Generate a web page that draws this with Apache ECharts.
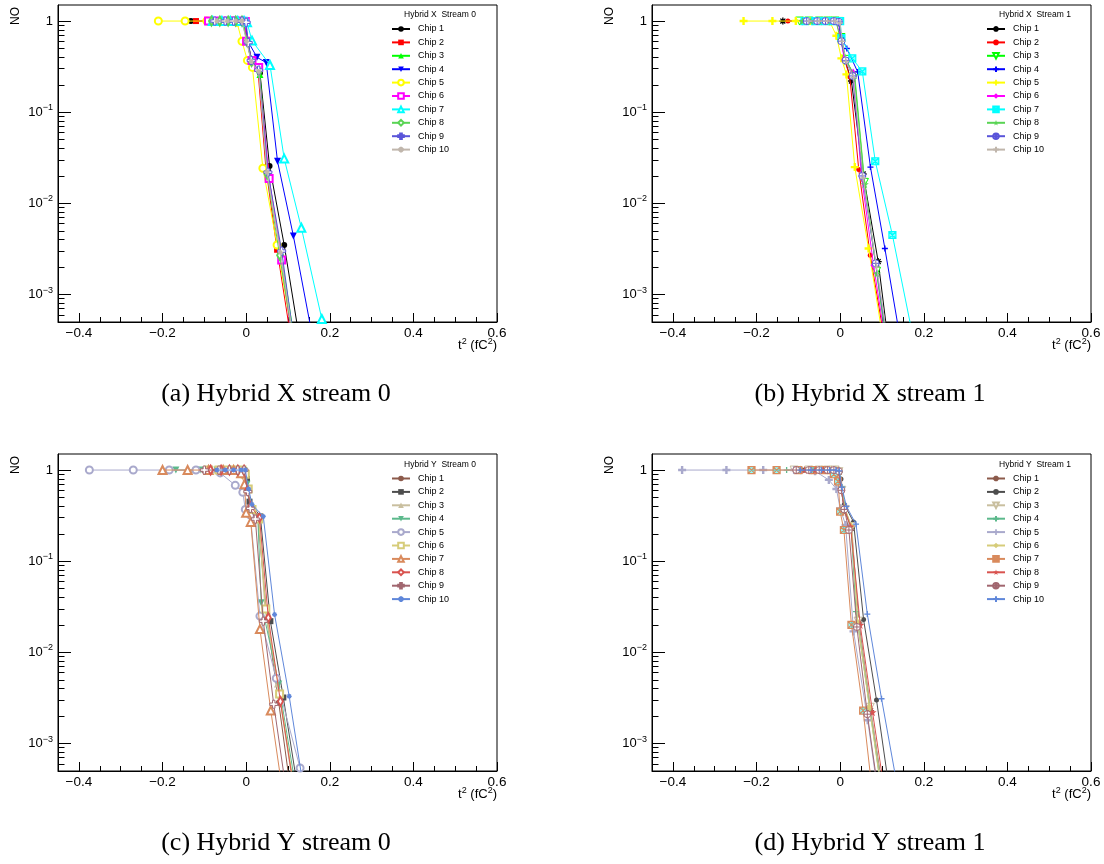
<!DOCTYPE html>
<html><head><meta charset="utf-8">
<script src="https://cdn.jsdelivr.net/npm/echarts@6/dist/echarts.min.js"></script>
<style>html,body{margin:0;padding:0;background:#fff}#c{width:1104px;height:864px}</style>
</head><body><div id="c"></div>
<script>
// ---------- labels ----------
const chipNames = ['Chip 1','Chip 2','Chip 3','Chip 4','Chip 5','Chip 6','Chip 7','Chip 8','Chip 9','Chip 10'];
const panelHeaders = ['Hybrid X  Stream 0','Hybrid X  Stream 1','Hybrid Y  Stream 0','Hybrid Y  Stream 1'];
const captions = ['(a) Hybrid X stream 0','(b) Hybrid X stream 1','(c) Hybrid Y stream 0','(d) Hybrid Y stream 1'];
const xMajorTicks = [-0.4,-0.2,0,0.2,0.4,0.6];
const xMinorTicks = [-0.35,-0.3,-0.25,-0.15,-0.1,-0.05,0.05,0.1,0.15,0.25,0.3,0.35,0.45,0.5,0.55];
const yMajorTicks = [0.001,0.01,0.1,1];
const yMinorTicks = [0.0005,0.0006,0.0007,0.0008,0.0009,0.002,0.003,0.004,0.005,0.006,0.007,0.008,0.009,
  0.02,0.03,0.04,0.05,0.06,0.07,0.08,0.09,0.2,0.3,0.4,0.5,0.6,0.7,0.8,0.9];
const xRange = [-0.45, 0.6];
const yRange = [0.0005, 1.5];

// ---------- data: Hybrid X stream 0 ----------
const xs0_chip1 = [[-0.132,1],[-0.078,1],[-0.052,1],[-0.03,1],[-0.012,1],[-0.003,0.98],[0.003,0.62],[0.013,0.38],[0.033,0.27],[0.056,0.0257],[0.091,0.0035],[0.126,0.00036]];
const xs0_chip2 = [[-0.12,1],[-0.08,1],[-0.055,1],[-0.035,1],[-0.018,1],[-0.006,0.99],[0.002,0.6],[0.012,0.37],[0.028,0.3],[0.047,0.025],[0.074,0.0031],[0.108,0.00031]];
const xs0_chip3 = [[-0.085,1],[-0.06,1],[-0.04,1],[-0.022,1],[-0.008,1],[0.001,0.63],[0.011,0.38],[0.033,0.26],[0.052,0.022],[0.083,0.0029],[0.118,0.00027]];
const xs0_chip4 = [[-0.07,1],[-0.05,1],[-0.03,1],[-0.015,1],[-0.003,0.99],[0.006,0.58],[0.026,0.4],[0.048,0.35],[0.075,0.029],[0.113,0.0044],[0.16,0.00032]];
const xs0_chip5 = [[-0.21,1],[-0.146,1],[-0.094,1],[-0.06,1],[-0.035,1],[-0.022,0.97],[-0.01,0.6],[0.003,0.37],[0.015,0.31],[0.04,0.0243],[0.074,0.0035],[0.11,0.00036]];
const xs0_chip6 = [[-0.09,1],[-0.068,1],[-0.045,1],[-0.028,1],[-0.012,1],[-0.002,0.99],[0.001,0.6],[0.014,0.37],[0.03,0.31],[0.055,0.0188],[0.085,0.0024],[0.115,0.0002]];
const xs0_chip7 = [[-0.08,1],[-0.058,1],[-0.038,1],[-0.02,1],[-0.005,1],[0.002,0.97],[0.014,0.61],[0.057,0.33],[0.091,0.031],[0.132,0.0054],[0.181,0.00054]];
const xs0_chip8 = [[-0.083,1],[-0.063,1],[-0.043,1],[-0.025,1],[-0.01,1],[0.002,0.6],[0.013,0.36],[0.031,0.28],[0.05,0.021],[0.08,0.0027],[0.113,0.0003]];
const xs0_chip9 = [[-0.075,1],[-0.05,1],[-0.03,1],[-0.01,1],[0.0,0.97],[0.005,0.58],[0.012,0.37],[0.03,0.29],[0.052,0.022],[0.085,0.003],[0.115,0.0003]];
const xs0_chip10 = [[-0.07,1],[-0.045,1],[-0.025,1],[-0.01,1],[0.001,0.6],[0.012,0.36],[0.03,0.28],[0.05,0.022],[0.082,0.0029],[0.114,0.0003]];

// ---------- data: Hybrid X stream 1 ----------
const xs1_chip1 = [[-0.137,1],[-0.09,1],[-0.06,1],[-0.035,1],[-0.015,1],[-0.004,0.97],[0.004,0.62],[0.012,0.37],[0.027,0.22],[0.055,0.021],[0.091,0.0023],[0.12,0.0002]];
const xs1_chip2 = [[-0.125,1],[-0.085,1],[-0.055,1],[-0.03,1],[-0.012,1],[-0.002,0.95],[0.003,0.6],[0.012,0.36],[0.023,0.245],[0.0445,0.0236],[0.072,0.0027],[0.105,0.00034]];
const xs1_chip3 = [[-0.097,1],[-0.075,1],[-0.05,1],[-0.03,1],[-0.012,1],[-0.002,0.99],[0.002,0.66],[0.014,0.38],[0.034,0.25],[0.058,0.017],[0.087,0.0018],[0.115,0.00022]];
const xs1_chip4 = [[-0.085,1],[-0.06,1],[-0.04,1],[-0.02,1],[-0.005,1],[0.004,0.65],[0.016,0.5],[0.042,0.277],[0.0725,0.025],[0.107,0.0032],[0.145,0.0003]];
const xs1_chip5 = [[-0.231,1],[-0.162,1],[-0.106,1],[-0.07,1],[-0.045,1],[-0.025,0.99],[-0.009,0.69],[0.003,0.39],[0.015,0.26],[0.035,0.025],[0.068,0.0032],[0.1,0.00038]];
const xs1_chip6 = [[-0.09,1],[-0.065,1],[-0.045,1],[-0.025,1],[-0.01,1],[0.0,0.7],[0.01,0.38],[0.031,0.27],[0.051,0.0198],[0.08,0.0021],[0.11,0.00027]];
const xs1_chip7 = [[-0.085,1],[-0.06,1],[-0.04,1],[-0.02,1],[0.0,1],[0.003,0.65],[0.029,0.39],[0.053,0.28],[0.084,0.029],[0.125,0.0045],[0.175,0.00033]];
const xs1_chip8 = [[-0.09,1],[-0.07,1],[-0.05,1],[-0.03,1],[-0.01,1],[0.001,0.62],[0.015,0.36],[0.035,0.255],[0.059,0.0162],[0.088,0.0017],[0.115,0.0002]];
const xs1_chip9 = [[-0.08,1],[-0.055,1],[-0.035,1],[-0.015,1],[-0.003,0.98],[0.003,0.6],[0.013,0.37],[0.03,0.25],[0.053,0.02],[0.085,0.0022],[0.115,0.00025]];
const xs1_chip10 = [[-0.075,1],[-0.05,1],[-0.03,1],[-0.012,1],[0.0,0.95],[0.005,0.6],[0.014,0.36],[0.032,0.24],[0.055,0.019],[0.087,0.002],[0.117,0.00025]];

// ---------- data: Hybrid Y stream 0 ----------
const ys0_chip1 = [[-0.102,1],[-0.07,1],[-0.045,1],[-0.025,1],[-0.01,1],[-0.002,0.96],[0.003,0.6],[0.01,0.4],[0.028,0.3],[0.05,0.023],[0.078,0.0028],[0.11,0.00023]];
const ys0_chip2 = [[-0.095,1],[-0.06,1],[-0.04,1],[-0.02,1],[-0.005,1],[0.002,0.8],[0.008,0.45],[0.034,0.31],[0.058,0.022],[0.089,0.0032],[0.122,0.00035]];
const ys0_chip3 = [[-0.127,1],[-0.085,1],[-0.055,1],[-0.03,1],[-0.012,1],[-0.003,0.95],[0.004,0.65],[0.013,0.38],[0.03,0.3],[0.045,0.03],[0.075,0.0045],[0.11,0.0004]];
const ys0_chip4 = [[-0.168,1],[-0.11,1],[-0.07,1],[-0.04,1],[-0.02,1],[-0.005,0.98],[0.002,0.7],[0.012,0.38],[0.028,0.3],[0.036,0.035],[0.078,0.0045],[0.12,0.0003]];
const ys0_chip5 = [[-0.375,1],[-0.27,1],[-0.184,1],[-0.12,1],[-0.062,0.93],[-0.026,0.68],[-0.008,0.57],[-0.002,0.37],[0.01,0.32],[0.033,0.025],[0.072,0.0052],[0.129,0.00054]];
const ys0_chip6 = [[-0.09,1],[-0.065,1],[-0.045,1],[-0.025,1],[-0.01,1],[-0.002,0.9],[0.005,0.62],[0.014,0.37],[0.03,0.29],[0.047,0.03],[0.08,0.0035],[0.112,0.0004]];
const ys0_chip7 = [[-0.2,1],[-0.14,1],[-0.09,1],[-0.055,1],[-0.03,1],[-0.012,0.92],[-0.004,0.7],[0.0,0.34],[0.011,0.27],[0.033,0.018],[0.059,0.0023],[0.09,0.00024]];
const ys0_chip8 = [[-0.085,1],[-0.06,1],[-0.04,1],[-0.02,1],[-0.005,1],[0.003,0.6],[0.011,0.4],[0.032,0.3],[0.053,0.024],[0.082,0.0029],[0.115,0.0003]];
const ys0_chip9 = [[-0.1,1],[-0.065,1],[-0.04,1],[-0.02,1],[-0.005,1],[0.004,0.58],[0.01,0.38],[0.022,0.29],[0.041,0.022],[0.066,0.0027],[0.097,0.00028]];
const ys0_chip10 = [[-0.07,1],[-0.05,1],[-0.03,1],[-0.012,1],[-0.002,1],[0.006,0.62],[0.014,0.42],[0.041,0.31],[0.068,0.026],[0.103,0.0033],[0.14,0.00027]];

// ---------- data: Hybrid Y stream 1 ----------
const ys1_chip1 = [[-0.1,1],[-0.07,1],[-0.045,1],[-0.025,1],[-0.01,1],[-0.002,0.95],[0.003,0.62],[0.01,0.36],[0.027,0.23],[0.045,0.021],[0.073,0.0023],[0.105,0.00025]];
const ys1_chip2 = [[-0.09,1],[-0.065,1],[-0.04,1],[-0.02,1],[-0.005,1],[0.002,0.8],[0.01,0.42],[0.032,0.27],[0.056,0.023],[0.087,0.003],[0.12,0.00026]];
const ys1_chip3 = [[-0.11,1],[-0.075,1],[-0.05,1],[-0.03,1],[-0.012,1],[-0.003,0.96],[0.004,0.6],[0.012,0.37],[0.028,0.24],[0.043,0.022],[0.072,0.0025],[0.102,0.00028]];
const ys1_chip4 = [[-0.128,1],[-0.085,1],[-0.055,1],[-0.03,1],[-0.012,1],[-0.002,0.97],[0.004,0.65],[0.012,0.37],[0.026,0.24],[0.038,0.028],[0.071,0.0024],[0.1,0.00028]];
const ys1_chip5 = [[-0.378,1],[-0.272,1],[-0.184,1],[-0.11,1],[-0.06,0.97],[-0.027,0.78],[-0.009,0.62],[0.0,0.38],[0.013,0.25],[0.032,0.017],[0.066,0.0018],[0.095,0.0002]];
const ys1_chip6 = [[-0.095,1],[-0.068,1],[-0.045,1],[-0.025,1],[-0.01,1],[-0.002,0.93],[0.004,0.6],[0.012,0.37],[0.027,0.24],[0.042,0.021],[0.07,0.0025],[0.1,0.00027]];
const ys1_chip7 = [[-0.212,1],[-0.152,1],[-0.1,1],[-0.065,1],[-0.035,1],[-0.015,0.9],[-0.005,0.75],[0.0,0.35],[0.009,0.22],[0.027,0.02],[0.055,0.0023],[0.08,0.00022]];
const ys1_chip8 = [[-0.085,1],[-0.06,1],[-0.04,1],[-0.02,1],[-0.005,1],[0.002,0.62],[0.01,0.38],[0.025,0.24],[0.048,0.02],[0.0775,0.0022],[0.11,0.00023]];
const ys1_chip9 = [[-0.105,1],[-0.075,1],[-0.05,1],[-0.03,1],[-0.015,1],[-0.003,0.97],[0.003,0.6],[0.01,0.37],[0.021,0.22],[0.04,0.019],[0.065,0.0021],[0.095,0.00022]];
const ys1_chip10 = [[-0.095,1],[-0.07,1],[-0.045,1],[-0.025,1],[-0.01,1],[-0.002,0.98],[0.004,0.65],[0.015,0.4],[0.038,0.255],[0.065,0.0263],[0.099,0.0031],[0.14,0.00028]];

const panelData = [
  [xs0_chip1,xs0_chip2,xs0_chip3,xs0_chip4,xs0_chip5,xs0_chip6,xs0_chip7,xs0_chip8,xs0_chip9,xs0_chip10],
  [xs1_chip1,xs1_chip2,xs1_chip3,xs1_chip4,xs1_chip5,xs1_chip6,xs1_chip7,xs1_chip8,xs1_chip9,xs1_chip10],
  [ys0_chip1,ys0_chip2,ys0_chip3,ys0_chip4,ys0_chip5,ys0_chip6,ys0_chip7,ys0_chip8,ys0_chip9,ys0_chip10],
  [ys1_chip1,ys1_chip2,ys1_chip3,ys1_chip4,ys1_chip5,ys1_chip6,ys1_chip7,ys1_chip8,ys1_chip9,ys1_chip10]
];

// ---------- styles ----------
const colorsX = ['#000000','#ff0000','#00ff00','#0000ff','#ffff00','#ff00ff','#00ffff','#59d454','#5954d9','#c0b6ac'];
const colorsY = ['#8c5a4b','#4d4d4d','#c9bf9f','#5cb98c','#a9a9cc','#d6cc7a','#d98a5c','#d9534f','#a1666f','#5f87da'];
const TRI_DOWN = 'path://M0,0L10,0L5,9Z';
const OPEN_CROSS = 'path://M3.5,0H6.5V3.5H10V6.5H6.5V10H3.5V6.5H0V3.5H3.5Z';
const PLUS = 'path://M5,0V10M0,5H10';
const ASTER = 'path://M5,0V10M0,5H10M1.5,1.5L8.5,8.5M8.5,1.5L1.5,8.5';
const STAR = 'path://M5,0L6.2,3.6L10,3.6L6.9,5.9L8.1,9.5L5,7.3L1.9,9.5L3.1,5.9L0,3.6L3.8,3.6Z';
const CIRCLE_CROSS = 'path://M5,0A5,5 0 1 1 4.99,0ZM5,0V10M0,5H10';
const SQUARE_X = 'path://M0,0H10V10H0ZM0,0L10,10M10,0L0,10';
const markersSet1 = [
  {sym:'circle',size:6,mode:'fill'},{sym:'rect',size:6,mode:'fill'},{sym:'triangle',size:7,mode:'fill'},
  {sym:TRI_DOWN,size:7,mode:'fill'},{sym:'emptyCircle',size:7,mode:'empty'},{sym:'emptyRect',size:7,mode:'empty'},
  {sym:'emptyTriangle',size:8,mode:'empty'},{sym:'emptyDiamond',size:[5,9],mode:'empty'},
  {sym:OPEN_CROSS,size:8,mode:'open'},{sym:ASTER,size:5,mode:'stroke'}
];
const markersSet2 = [
  {sym:ASTER,size:7,mode:'stroke'},{sym:'circle',size:5,mode:'fill'},{sym:'path://M0,0L10,0L5,9Z',size:8,mode:'open'},
  {sym:PLUS,size:6,mode:'stroke'},{sym:OPEN_CROSS,size:8,mode:'fill'},{sym:'diamond',size:[6,9],mode:'fill'},
  {sym:SQUARE_X,size:7,mode:'half'},{sym:STAR,size:8,mode:'fill'},{sym:CIRCLE_CROSS,size:7,mode:'open'},
  {sym:PLUS,size:6,mode:'stroke'}
];
function itemStyleFor(m, c){
  if (m.mode==='fill') return {color:c, borderWidth:0};
  if (m.mode==='empty') return {color:c, borderWidth:1};
  if (m.mode==='open') return {color:'#fff', borderColor:c, borderWidth:1};
  if (m.mode==='half') return {color:'rgba(0,255,255,0.45)', borderColor:c, borderWidth:1.2};
  return {color:c, borderColor:c, borderWidth:1.3};
}

// ---------- layout ----------
const grids = [
  {left:58, top:5, width:439, height:317},
  {left:652, top:5, width:439, height:317},
  {left:58, top:454, width:439, height:317},
  {left:652, top:454, width:439, height:317}
];
const legendPos = [[391,23],[986,23],[391,472.5],[986,472.5]];
const headerPos = [[440,15],[1035,15],[440,465],[1035,465]];
const FONT = 'Liberation Sans';

function fmtX(v){ if (Math.abs(v)<1e-9) return '0'; return (v<0?'\u2212':'') + Math.abs(v).toFixed(1); }
function fmtY(v){ const e = Math.round(Math.log10(v)); if (e===0) return '1'; return '10{s|\u2212'+(-e)+'}'; }

const xAxes=[], yAxes=[], series=[], legends=[], graphics=[];
grids.forEach((g,p)=>{
  xAxes.push({type:'value', gridIndex:p, position:'bottom', min:xRange[0], max:xRange[1],
    axisLine:{show:true, onZero:false, lineStyle:{color:'#000', width:1}},
    axisTick:{show:true, inside:true, length:9, customValues:xMajorTicks, lineStyle:{color:'#000'}},
    axisLabel:{show:true, customValues:xMajorTicks, formatter:fmtX, color:'#000', fontSize:13.5, fontFamily:FONT, margin:4},
    splitLine:{show:false}});
  xAxes.push({type:'value', gridIndex:p, position:'bottom', min:xRange[0], max:xRange[1],
    axisLine:{show:false, onZero:false},
    axisTick:{show:true, inside:true, length:5, customValues:xMinorTicks, lineStyle:{color:'#000'}},
    axisLabel:{show:false}, splitLine:{show:false}});
  yAxes.push({type:'log', logBase:10, gridIndex:p, position:'left', min:yRange[0], max:yRange[1],
    axisLine:{show:true, onZero:false, lineStyle:{color:'#000', width:1}},
    axisTick:{show:true, inside:true, length:13, customValues:yMajorTicks, lineStyle:{color:'#000'}},
    axisLabel:{show:true, customValues:yMajorTicks, formatter:fmtY, color:'#000', fontSize:13, fontFamily:FONT, margin:5,
      lineHeight:18, rich:{s:{fontSize:9, fontFamily:FONT, color:'#000', verticalAlign:'top', lineHeight:10}}},
    splitLine:{show:false}});
  yAxes.push({type:'log', logBase:10, gridIndex:p, position:'left', min:yRange[0], max:yRange[1],
    axisLine:{show:false, onZero:false},
    axisTick:{show:true, inside:true, length:6.5, customValues:yMinorTicks, lineStyle:{color:'#000'}},
    axisLabel:{show:false}, splitLine:{show:false}});
  const colors = p<2 ? colorsX : colorsY;
  const marks = (p%2===0) ? markersSet1 : markersSet2;
  const names = [];
  panelData[p].forEach((d,i)=>{
    const nm = 'abcd'[p] + '|' + chipNames[i];
    names.push(nm);
    series.push({type:'line', name:nm, xAxisIndex:2*p, yAxisIndex:2*p, data:d,
      symbol:marks[i].sym, symbolSize:marks[i].size, showSymbol:true, showAllSymbol:true,
      lineStyle:{color:colors[i], width:1}, itemStyle:itemStyleFor(marks[i], colors[i]),
      emphasis:{disabled:true}, silent:true, clip:true, z:2+i});
  });
  legends.push({orient:'vertical', left:legendPos[p][0], top:legendPos[p][1]+1, padding:0,
    itemWidth:18, itemHeight:7, itemGap:3.4, selectedMode:false, data:names,
    formatter:n=>n.split('|')[1],
    textStyle:{fontSize:9, fontFamily:FONT, color:'#000', lineHeight:10, padding:[0,0,0,3]}});
  graphics.push({type:'text', x:headerPos[p][0], y:headerPos[p][1],
    style:{text:panelHeaders[p], fontSize:8.5, fontFamily:FONT, fill:'#000', align:'center', verticalAlign:'middle'}});
  graphics.push({type:'text', x:g.left+g.width, y:g.top+g.height+23,
    style:{text:'t{s|2} (fC{s|2})', fontSize:13, fontFamily:FONT, fill:'#000', align:'right', verticalAlign:'middle', lineHeight:16,
      rich:{s:{fontSize:9, fontFamily:FONT, fill:'#000', verticalAlign:'top', lineHeight:9}}}});
  graphics.push({type:'text', x:g.left-42, y:g.top+11, rotation:Math.PI/2,
    style:{text:'NO', fontSize:12, fontFamily:FONT, fill:'#000', align:'center', verticalAlign:'middle'}});
  graphics.push({type:'text', x:g.left+218, y:g.top+389,
    style:{text:captions[p], fontSize:26, fontFamily:'Liberation Serif', fill:'#000', align:'center', verticalAlign:'middle'}});
});

const chart = echarts.init(document.getElementById('c'), null, {renderer:'canvas'});
chart.setOption({
  animation:false,
  backgroundColor:'#fff',
  grid: grids.map(g=>Object.assign({show:true, borderColor:'#000', borderWidth:1, backgroundColor:'transparent', containLabel:false}, g)),
  xAxis:xAxes, yAxis:yAxes, series:series, legend:legends, graphic:graphics
});
</script></body></html>
